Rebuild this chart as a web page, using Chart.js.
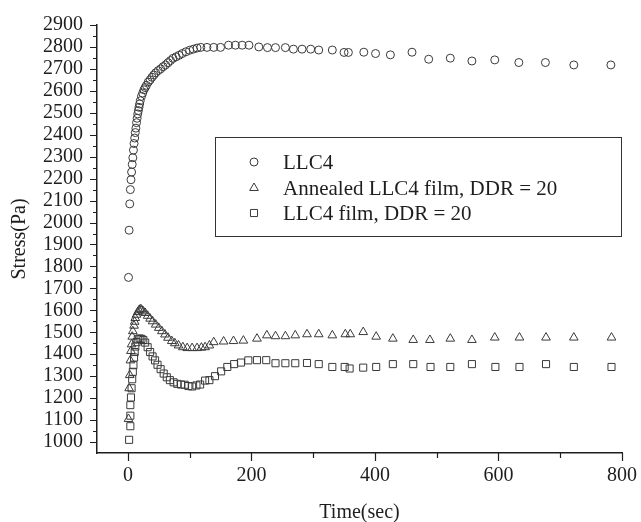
<!DOCTYPE html>
<html>
<head>
<meta charset="utf-8">
<script src="https://cdn.jsdelivr.net/npm/chart.js@4/dist/chart.umd.min.js"></script>
<style>
  html, body { margin: 0; padding: 0; background: #fff; }
  #wrap { width: 641px; height: 522px; }
</style>
</head>
<body>
<div id="wrap"><canvas id="stressChart" width="641" height="522"></canvas></div>
<script>
// LLC4
var llcTime = [1, 2, 3, 4, 5, 6, 7, 8, 9, 10, 11, 12, 13, 14, 15, 16, 17, 18, 19, 20, 22, 24, 26, 28, 30, 33, 36, 39, 42, 45, 49, 53, 57, 61, 65, 69, 73, 78, 83, 88, 94, 100, 106, 112, 118, 128, 139, 150, 163, 174, 185, 196, 212, 226, 239, 255, 268, 282, 296, 309, 331, 350, 357, 382, 401, 425, 460, 487, 522, 557, 594, 633, 676, 722, 782];
var llcStress = [1750, 1965, 2085, 2150, 2195, 2230, 2265, 2295, 2330, 2360, 2385, 2410, 2430, 2455, 2475, 2495, 2510, 2525, 2540, 2555, 2575, 2590, 2605, 2615, 2625, 2640, 2650, 2662, 2672, 2682, 2692, 2700, 2710, 2718, 2728, 2738, 2748, 2755, 2762, 2770, 2778, 2785, 2790, 2795, 2798, 2798, 2798, 2798, 2808, 2808, 2808, 2808, 2800, 2797, 2797, 2797, 2790, 2790, 2790, 2786, 2786, 2775, 2775, 2776, 2770, 2764, 2776, 2744, 2749, 2736, 2741, 2729, 2729, 2718, 2718];

// Annealed LLC4 film, DDR = 20
var annTime = [1, 2, 3, 4, 5, 6, 7, 8, 10, 11, 12, 14, 16, 18, 20, 22, 25, 28, 32, 36, 40, 45, 50, 55, 60, 65, 71, 76, 82, 89, 96, 104, 112, 119, 125, 132, 139, 155, 171, 187, 209, 225, 239, 255, 271, 290, 309, 331, 352, 360, 381, 402, 429, 462, 489, 522, 557, 594, 634, 677, 722, 783];
var annStress = [1105, 1245, 1305, 1372, 1415, 1445, 1480, 1505, 1530, 1548, 1565, 1580, 1592, 1600, 1605, 1603, 1595, 1588, 1575, 1562, 1550, 1535, 1520, 1505, 1490, 1475, 1460, 1450, 1440, 1432, 1428, 1428, 1428, 1430, 1432, 1440, 1455, 1458, 1460, 1462, 1471, 1486, 1482, 1482, 1486, 1491, 1491, 1486, 1491, 1491, 1501, 1480, 1471, 1465, 1465, 1471, 1465, 1476, 1476, 1476, 1476, 1476];

// LLC4 film, DDR = 20
var filmTime = [2, 4, 4, 4, 5, 6, 7, 8, 9, 10, 11, 12, 14, 16, 19, 22, 25, 28, 32, 36, 40, 44, 48, 53, 58, 63, 68, 74, 80, 86, 92, 98, 104, 111, 117, 125, 132, 141, 151, 161, 172, 183, 195, 209, 224, 239, 255, 271, 290, 309, 331, 351, 359, 381, 402, 429, 462, 490, 522, 557, 595, 634, 677, 722, 783];
var filmStress = [1010, 1072, 1120, 1168, 1203, 1245, 1286, 1320, 1350, 1385, 1410, 1435, 1455, 1468, 1472, 1470, 1465, 1453, 1432, 1410, 1390, 1372, 1352, 1332, 1312, 1295, 1282, 1272, 1265, 1262, 1261, 1255, 1253, 1258, 1262, 1280, 1282, 1300, 1322, 1342, 1355, 1362, 1372, 1373, 1373, 1359, 1359, 1359, 1360, 1355, 1342, 1342, 1335, 1339, 1342, 1355, 1355, 1342, 1342, 1355, 1342, 1342, 1355, 1342, 1342];

var seriesNames = ['LLC4', 'Annealed LLC4 film, DDR = 20', 'LLC4 film, DDR = 20'];
var xTicks = [0, 100, 200, 300, 400, 500, 600, 700, 800];
var yTicks = [];
for (var v = 1000; v <= 2900; v += 50) yTicks.push(v);

function toPoints(xs, ys) {
  return xs.map(function (x, i) { return { x: x, y: ys[i] }; });
}

var ink = '#1e1e1e';
var markInk = '#3a3a3a';
var serif = 'Liberation Serif, Times New Roman, serif';

// tick marks: long at labelled values, short in between
var tickPlugin = {
  id: 'tickMarks',
  afterDraw: function (chart) {
    var ctx = chart.ctx, xs = chart.scales.x, ys = chart.scales.y;
    var area = chart.chartArea;
    ctx.save();
    ctx.strokeStyle = ink;
    ctx.lineWidth = 1.2;
    ctx.beginPath();
    xTicks.forEach(function (t) {
      var px = Math.round(xs.getPixelForValue(t)) + 0.5;
      ctx.moveTo(px, area.bottom);
      ctx.lineTo(px, area.bottom + (t % 200 === 0 ? 8 : 5));
    });
    yTicks.forEach(function (t) {
      var py = Math.round(ys.getPixelForValue(t)) + 0.5;
      ctx.moveTo(area.left, py);
      ctx.lineTo(area.left - (t % 100 === 0 ? 7 : 4), py);
    });
    ctx.stroke();
    ctx.restore();
  }
};

// legend box sitting inside the plot
var legendPlugin = {
  id: 'boxLegend',
  afterDraw: function (chart) {
    var ctx = chart.ctx;
    var box = { left: 215, top: 137, right: 621, bottom: 236 };
    var rows = [162, 188, 213];
    ctx.save();
    ctx.strokeStyle = '#333';
    ctx.lineWidth = 1;
    ctx.strokeRect(box.left + 0.5, box.top + 0.5, box.right - box.left, box.bottom - box.top);
    ctx.font = '21px ' + serif;
    ctx.textBaseline = 'middle';
    chart.data.datasets.forEach(function (ds, i) {
      ctx.strokeStyle = markInk;
      ctx.fillStyle = 'rgba(0,0,0,0)';
      ctx.lineWidth = 1;
      Chart.helpers.drawPoint(ctx, {
        pointStyle: ds.pointStyle,
        radius: ds.pointRadius,
        borderWidth: 1,
        rotation: 0
      }, 254, rows[i]);
      ctx.fillStyle = ink;
      ctx.fillText(ds.label, 283, rows[i] + 1);
    });
    ctx.restore();
  }
};

var config = {
  type: 'scatter',
  data: {
    datasets: [{
      label: seriesNames[0],
      data: toPoints(llcTime, llcStress),
      pointStyle: 'circle',
      pointRadius: 4
    }, {
      label: seriesNames[1],
      data: toPoints(annTime, annStress),
      pointStyle: 'triangle',
      pointRadius: 5
    }, {
      label: seriesNames[2],
      data: toPoints(filmTime, filmStress),
      pointStyle: 'rect',
      pointRadius: 5
    }]
  },
  options: {
    responsive: false,
    animation: false,
    clip: false,
    layout: { padding: { left: 0, top: 25, right: 19, bottom: 0 } },
    elements: {
      point: {
        borderColor: markInk,
        backgroundColor: 'rgba(0,0,0,0)',
        borderWidth: 1,
        hoverRadius: 4
      }
    },
    plugins: {
      legend: { display: false },
      tooltip: { enabled: false }
    },
    scales: {
      x: {
        type: 'linear',
        min: -50,
        max: 800,
        afterBuildTicks: function (scale) {
          scale.ticks = xTicks.map(function (t) { return { value: t }; });
        },
        afterFit: function (scale) { scale.height = 69; },
        grid: { display: false },
        border: { display: true, color: ink, width: 1.5 },
        ticks: {
          padding: 3,
          color: ink,
          font: { family: serif, size: 20 },
          maxRotation: 0,
          callback: function (val) { return val % 200 === 0 ? String(val) : ''; }
        },
        title: {
          display: true,
          text: 'Time(sec)',
          color: ink,
          font: { family: serif, size: 20, lineHeight: 0.9 },
          padding: 0
        }
      },
      y: {
        type: 'linear',
        min: 950,
        max: 2900,
        afterBuildTicks: function (scale) {
          scale.ticks = yTicks.map(function (t) { return { value: t }; });
        },
        afterFit: function (scale) { scale.width = 97; },
        grid: { display: false },
        border: { display: true, color: ink, width: 1.5 },
        ticks: {
          padding: 6,
          color: ink,
          font: { family: serif, size: 20 },
          autoSkip: false,
          callback: function (val) { return val % 100 === 0 ? String(val) : ''; }
        },
        title: {
          display: true,
          text: 'Stress(Pa)',
          color: ink,
          font: { family: serif, size: 20, lineHeight: 1.2 },
          padding: { top: 8, bottom: 0 }
        }
      }
    }
  },
  plugins: [tickPlugin, legendPlugin]
};

// Create the chart
var stressChart = new Chart(document.getElementById('stressChart'), config);
</script>
</body>
</html>
